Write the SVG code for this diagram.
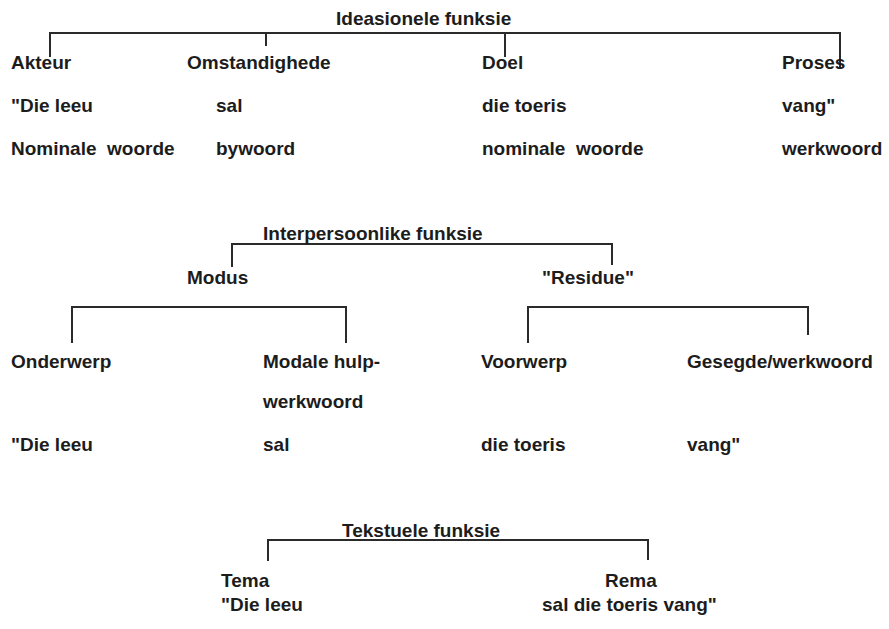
<svg xmlns="http://www.w3.org/2000/svg" width="889" height="629" viewBox="0 0 889 629">
<style>
text{font-family:"Liberation Sans",Arial,Helvetica,sans-serif;font-weight:bold;font-size:19px;fill:#1c1c1c}
.c{fill:none;stroke:#2a2a2a;stroke-width:2}
</style>
<rect width="889" height="629" fill="#ffffff"/>
<g id="connectors">
<path class="c" d="M50,57V33H840V68M266,33V46M505,33V57"/>
<path class="c" d="M232,267V244H612V265"/>
<path class="c" d="M72,343V307H346V343"/>
<path class="c" d="M528,343V307H808V335"/>
<path class="c" d="M268,561V540H648V560"/>
</g>
<g id="ideasionele">
<text x="336" y="25">Ideasionele funksie</text>
</g>
<g id="akteur">
<text x="11" y="69">Akteur</text>
<text x="11" y="112">"Die leeu</text>
<text x="11" y="155" xml:space="preserve">Nominale  woorde</text>
</g>
<g id="omstandighede">
<text x="187" y="69">Omstandighede</text>
<text x="216" y="112">sal</text>
<text x="216" y="155">bywoord</text>
</g>
<g id="doel">
<text x="482" y="69">Doel</text>
<text x="482" y="112">die toeris</text>
<text x="482" y="155" xml:space="preserve">nominale  woorde</text>
</g>
<g id="proses">
<text x="782" y="69">Proses</text>
<text x="782" y="112">vang"</text>
<text x="782" y="155">werkwoord</text>
</g>
<g id="interpersoonlike">
<text x="263" y="240">Interpersoonlike funksie</text>
</g>
<g id="modus">
<text x="187" y="284">Modus</text>
</g>
<g id="residue">
<text x="542" y="284">"Residue"</text>
</g>
<g id="onderwerp">
<text x="11" y="368">Onderwerp</text>
<text x="11" y="451">"Die leeu</text>
</g>
<g id="modale">
<text x="263" y="368">Modale hulp-</text>
<text x="263" y="408">werkwoord</text>
<text x="263" y="451">sal</text>
</g>
<g id="voorwerp">
<text x="481" y="368">Voorwerp</text>
<text x="481" y="451">die toeris</text>
</g>
<g id="gesegde">
<text x="687" y="368">Gesegde/werkwoord</text>
<text x="687" y="451">vang"</text>
</g>
<g id="tekstuele">
<text x="342" y="537">Tekstuele funksie</text>
</g>
<g id="tema">
<text x="221" y="587">Tema</text>
<text x="221" y="611">"Die leeu</text>
</g>
<g id="rema">
<text x="605" y="587">Rema</text>
<text x="542" y="611">sal die toeris vang"</text>
</g>
</svg>
